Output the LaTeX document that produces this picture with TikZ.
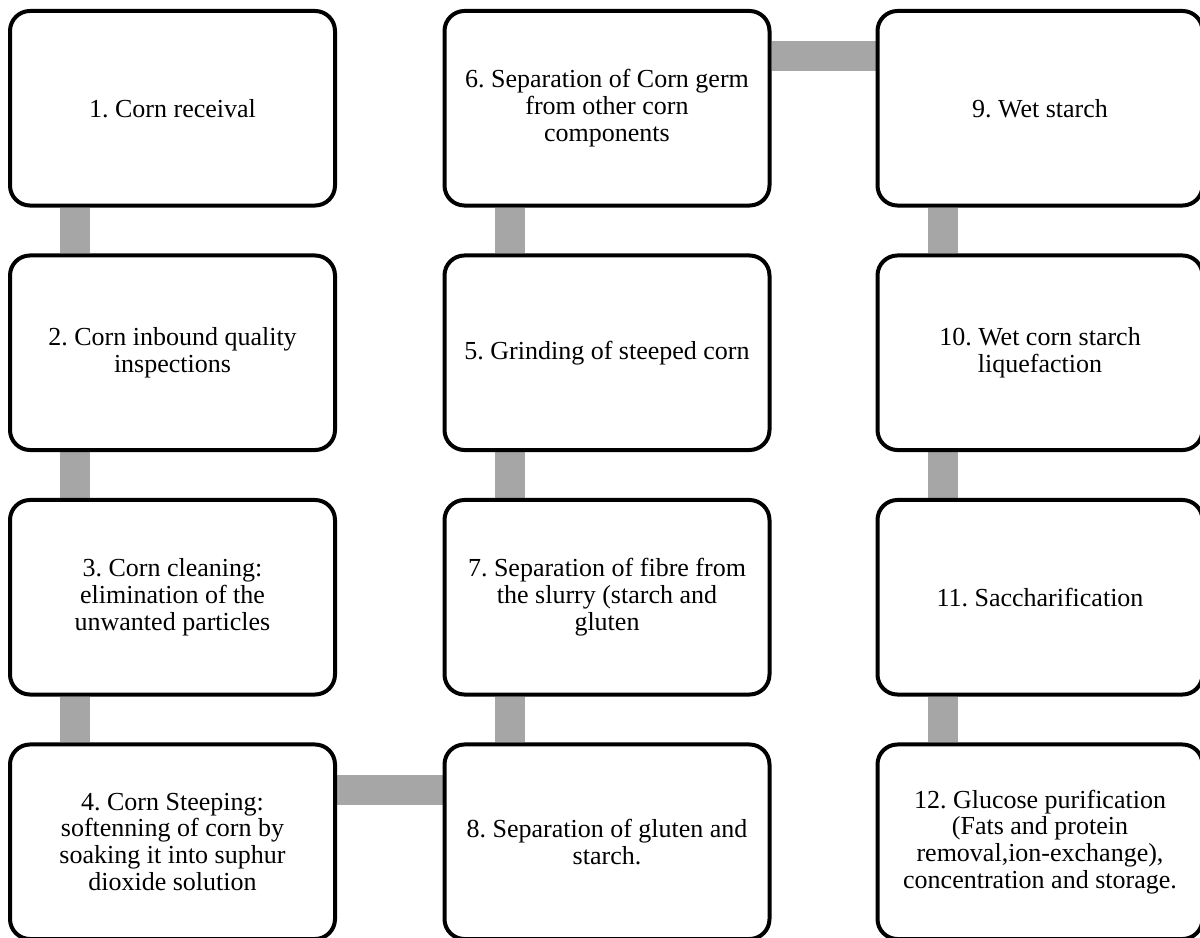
\documentclass[tikz,border=0pt]{standalone}
\usepackage{fontspec}
\setmainfont{Liberation Serif}
\usetikzlibrary{calc,backgrounds}
\definecolor{linkgray}{HTML}{A6A6A6}
\frenchspacing
\begin{document}
\begin{tikzpicture}[x=0.75pt,y=-0.75pt,
  stepbox/.style={draw=black, line width=3pt, fill=white, rounded corners=15pt,
    minimum width=243.75pt, minimum height=145.9pt, inner sep=0pt,
    align=center, font=\fontsize{19.5pt}{20pt}\selectfont},
  link/.style={draw=linkgray, line width=22.5pt}]
\clip (0,0) rectangle (1200,938);
\useasboundingbox (0,0) rectangle (1200,938);
% column 1
\node[stepbox] (b1) at (172.5,108.25) {1. Corn receival};
\node[stepbox] (b2) at (172.5,352.75) {2. Corn inbound quality\\inspections};
\node[stepbox] (b3) at (172.5,597.25) {3. Corn cleaning:\\elimination of the\\unwanted particles};
\node[stepbox] (b4) at (172.5,841.75) {4. Corn Steeping:\\softenning of corn by\\soaking it into suphur\\dioxide solution};
% column 2
\node[stepbox] (b6) at (607,108.25) {6. Separation of Corn germ\\from other corn\\components};
\node[stepbox] (b5) at (607,352.75) {5. Grinding of steeped corn};
\node[stepbox] (b7) at (607,597.25) {7. Separation of fibre from\\the slurry (starch and\\gluten};
\node[stepbox] (b8) at (607,841.75) {8. Separation of gluten and\\starch.};
% column 3
\node[stepbox] (b9) at (1040,108.25) {9. Wet starch};
\node[stepbox] (b10) at (1040,352.75) {10. Wet corn starch\\liquefaction};
\node[stepbox] (b11) at (1040,597.25) {11. Saccharification};
\node[stepbox] (b12) at (1040,841.75) {12. Glucose purification\\(Fats and protein\\removal,ion-exchange),\\concentration and storage.};
% grey links behind the boxes
\begin{scope}[on background layer]
  \draw[link] ($(b1.south west)+(67,0)$) -- ($(b2.north west)+(67,0)$);
  \draw[link] ($(b2.south west)+(67,0)$) -- ($(b3.north west)+(67,0)$);
  \draw[link] ($(b3.south west)+(67,0)$) -- ($(b4.north west)+(67,0)$);
  \draw[link] ($(b4.north east)+(0,48)$) -- ($(b8.north west)+(0,48)$);
  \draw[link] ($(b7.south west)+(67,0)$) -- ($(b8.north west)+(67,0)$);
  \draw[link] ($(b5.south west)+(67,0)$) -- ($(b7.north west)+(67,0)$);
  \draw[link] ($(b6.south west)+(67,0)$) -- ($(b5.north west)+(67,0)$);
  \draw[link] ($(b6.north east)+(0,47.5)$) -- ($(b9.north west)+(0,47.5)$);
  \draw[link] ($(b9.south west)+(67,0)$) -- ($(b10.north west)+(67,0)$);
  \draw[link] ($(b10.south west)+(67,0)$) -- ($(b11.north west)+(67,0)$);
  \draw[link] ($(b11.south west)+(67,0)$) -- ($(b12.north west)+(67,0)$);
\end{scope}
\end{tikzpicture}
\end{document}
